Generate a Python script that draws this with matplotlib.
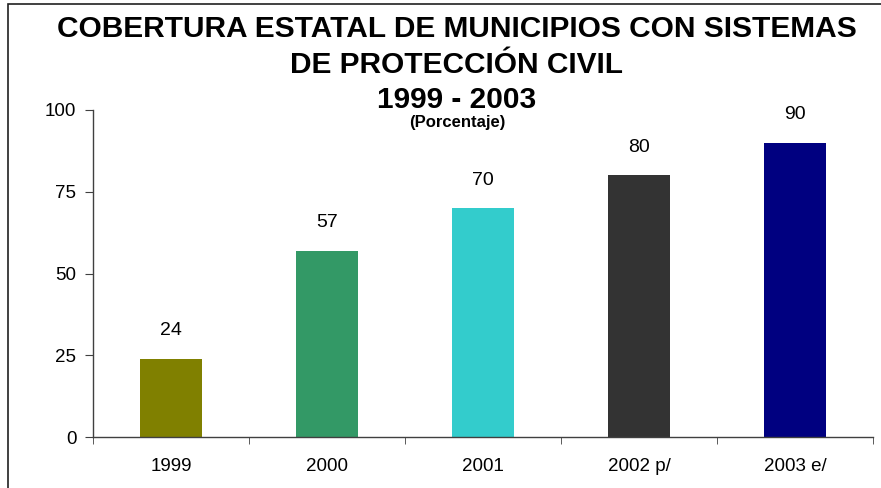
import matplotlib.pyplot as plt
from matplotlib.patches import Rectangle

years = ['1999', '2000', '2001', '2002 p/', '2003 e/']
coverage = [24, 57, 70, 80, 90]
bar_colors = ['#808000', '#339966', '#33CCCC', '#333333', '#000080']

plt.rcParams['font.family'] = ['Liberation Sans', 'DejaVu Sans']

W, H = 881, 488
fig = plt.figure(figsize=(W / 100, H / 100), dpi=100)
ax = fig.add_axes([93 / W, 1 - 437 / H, (873 - 93) / W, (437 - 110) / H])

x = range(len(years))
ax.bar(x, coverage, width=0.40, color=bar_colors)
for i, v in enumerate(coverage):
    ax.annotate(str(v), (i, v), xytext=(0, 14), textcoords='offset points',
                ha='center', va='bottom', fontsize=14)

ax.set_xlim(-0.5, len(years) - 0.5)
ax.set_ylim(0, 100)
ax.set_yticks([0, 25, 50, 75, 100])
ax.set_xticks(list(x))
ax.set_xticklabels(years)
ax.set_xticks([i - 0.5 for i in range(len(years) + 1)], minor=True)
ax.tick_params(axis='x', which='major', length=0, pad=15, labelsize=13.5)
ax.tick_params(axis='x', which='minor', length=5, direction='out', color='#404040')
ax.tick_params(axis='y', length=6, direction='out', labelsize=13.5, pad=6, color='#404040')
for s in ['top', 'right']:
    ax.spines[s].set_visible(False)
for s in ['left', 'bottom']:
    ax.spines[s].set_color('#404040')
    ax.spines[s].set_linewidth(1.0)

cx = 457 / W
fig.text(cx, 1 - 37 / H, 'COBERTURA ESTATAL DE MUNICIPIOS CON SISTEMAS',
         ha='center', va='baseline', fontsize=21.5, fontweight='bold')
fig.text(cx, 1 - 73 / H, 'DE PROTECCIÓN CIVIL',
         ha='center', va='baseline', fontsize=21.5, fontweight='bold')
fig.text(cx, 1 - 108 / H, '1999 - 2003',
         ha='center', va='baseline', fontsize=21.5, fontweight='bold')
fig.text(cx, 1 - 127 / H, '(Porcentaje)',
         ha='center', va='baseline', fontsize=12, fontweight='bold')

fig.patches.append(Rectangle((8 / W, -0.1), 1.2, 1 - 4 / H + 0.1,
                             transform=fig.transFigure, fill=False,
                             edgecolor='#202020', linewidth=1.2))

fig.savefig('out.png', dpi=100)
